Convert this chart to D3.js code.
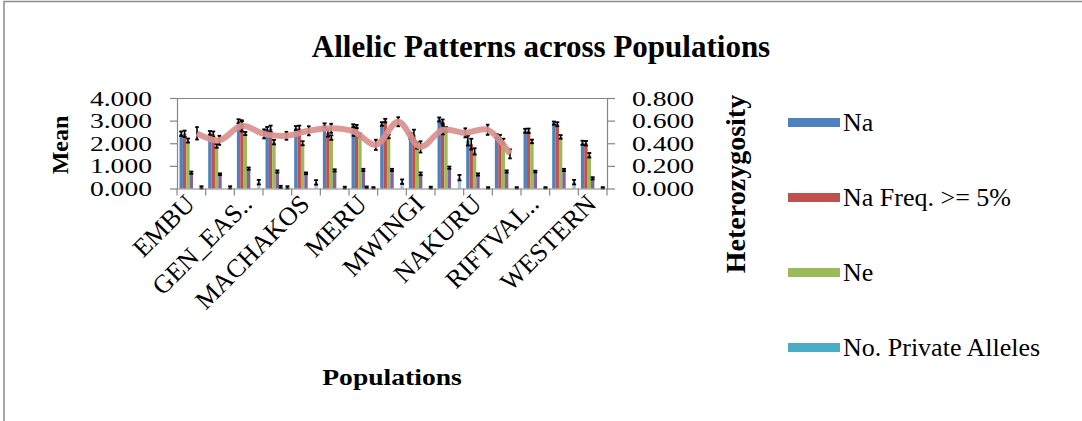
<!DOCTYPE html>
<html>
<head>
<meta charset="utf-8">
<script src="https://cdn.jsdelivr.net/npm/d3@7/dist/d3.min.js"></script>
<style>
  html, body { margin: 0; padding: 0; background: #ffffff; }
  svg { display: block; }
  svg text { font-family: "Liberation Serif", "Times New Roman", serif; fill: #000; }
</style>
</head>
<body>
<svg id="chart" width="1082" height="421"></svg>
<script>
// Populations on the category axis (every other name is shown as a tick label)
const populations = ["EMBU", "GEN_CEN..", "GEN_EAS..", "KIRINYAGA", "MACHAKOS", "MAKUENI", "MERU",
  "MURANGA", "MWINGI", "NAIROBI", "NAKURU", "NYERI", "RIFTVAL..", "THIKA", "WESTERN"];

// Mean values per population (primary axis)
const na      = [2.42, 2.45, 2.97, 2.62, 2.67, 2.80, 2.76, 2.85, 2.32, 3.05, 2.12, 2.32, 2.55, 2.89, 2.02];
const naFreq5 = [2.42, 2.40, 2.88, 2.64, 2.66, 2.45, 2.74, 3.00, 2.38, 2.96, 1.96, 2.27, 2.55, 2.84, 2.00];
const ne      = [2.12, 1.88, 2.43, 2.05, 2.00, 2.25, 2.35, 2.30, 1.90, 2.62, 1.64, 2.08, 2.08, 2.28, 1.47];
const shannon = [0.70, 0.63, 0.88, 0.75, 0.67, 0.80, 0.82, 0.82, 0.65, 0.92, 0.62, 0.75, 0.75, 0.82, 0.45];
const privateAlleles = [0.00, 0.00, 0.00, 0.07, 0.00, 0.00, 0.05, 0.00, 0.00, 0.00, 0.00, 0.00, 0.00, 0.00, 0.00];
const lcomm25 = [0, 0, 0, 0, 0, 0, 0, 0, 0, 0, 0, 0, 0, 0, 0];
const lcomm50 = [0.05, 0.05, 0.28, 0.05, 0.27, 0.04, 0.03, 0.30, 0.04, 0.48, 0.03, 0.03, 0.03, 0.28, 0.03];

// Standard errors drawn as error bars
const seNa      = [0.10, 0.09, 0.09, 0.10, 0.09, 0.08, 0.08, 0.08, 0.14, 0.09, 0.22, 0.09, 0.09, 0.07, 0.09];
const seNaFreq5 = [0.14, 0.12, 0.10, 0.14, 0.12, 0.16, 0.07, 0.08, 0.22, 0.09, 0.24, 0.10, 0.10, 0.09, 0.10];
const seNe      = [0.09, 0.08, 0.07, 0.10, 0.09, 0.10, 0.08, 0.08, 0.14, 0.10, 0.14, 0.12, 0.08, 0.08, 0.10];
const seShannon = [0.05, 0.04, 0.05, 0.05, 0.04, 0.05, 0.05, 0.05, 0.06, 0.05, 0.05, 0.05, 0.04, 0.05, 0.05];
const sePrivate = [0.00, 0.00, 0.00, 0.05, 0.00, 0.00, 0.04, 0.00, 0.00, 0.00, 0.00, 0.00, 0.00, 0.00, 0.00];
const seLcomm50 = [0.05, 0.05, 0.10, 0.05, 0.10, 0.04, 0.03, 0.10, 0.04, 0.12, 0.03, 0.03, 0.03, 0.10, 0.03];

// Heterozygosity per population (secondary axis)
const he   = [0.488, 0.426, 0.554, 0.483, 0.466, 0.510, 0.532, 0.505, 0.386, 0.590, 0.368, 0.519, 0.492, 0.519, 0.306];
const seHe = [0.055, 0.040, 0.050, 0.040, 0.035, 0.040, 0.040, 0.040, 0.045, 0.040, 0.050, 0.040, 0.040, 0.045, 0.040];

// Axis ticks
const meanTicks = [0, 1, 2, 3, 4];
const hetTicks = [0, 0.2, 0.4, 0.6, 0.8];

const barSeries = [
  { name: "Na", values: na, se: seNa, color: "#4f81bd" },
  { name: "Na Freq. >= 5%", values: naFreq5, se: seNaFreq5, color: "#c0504d" },
  { name: "Ne", values: ne, se: seNe, color: "#9bbb59" },
  { name: "I", values: shannon, se: seShannon, color: "#8064a2" },
  { name: "No. Private Alleles", values: privateAlleles, se: sePrivate, color: "#4bacc6" },
  { name: "No. LComm Alleles (<=25%)", values: lcomm25, se: null, color: "#f79646" },
  { name: "No. LComm Alleles (<=50%)", values: lcomm50, se: seLcomm50, color: "#a9c1e3" }
];
const legendSeries = ["Na", "Na Freq. >= 5%", "Ne", "No. Private Alleles"];

const svg = d3.select("#chart");
const axisColor = "#868686";
const serif = "'Liberation Serif', 'Times New Roman', serif";

// Chart area frame
svg.append("rect")
  .attr("x", 4).attr("y", 1.5).attr("width", 1200).attr("height", 440)
  .attr("fill", "none").attr("stroke", "#8c8c8c").attr("stroke-width", 1.5);

// Plot area
const plot = { left: 177, top: 98, right: 607, bottom: 188.5 };
const pw = plot.right - plot.left, ph = plot.bottom - plot.top;
const g = svg.append("g").attr("transform", `translate(${plot.left},${plot.top})`);

const x = d3.scaleBand().domain(populations).range([0, pw]).padding(0);
const bw = x.bandwidth();
const gapHalf = 0.75; // half of a 150% gap width, in bar widths
const slots = barSeries.length + 2 * gapHalf;
const xInner = d3.scaleBand().domain(barSeries.map(s => s.name))
  .range([bw * gapHalf / slots, bw * (gapHalf + barSeries.length) / slots]).padding(0);
const yMean = d3.scaleLinear().domain([0, 4]).range([ph, 0]);
const yHet = d3.scaleLinear().domain([0, 0.8]).range([ph, 0]);
// Heterozygosity points sit on their own horizontal placement
const xHet = d3.scalePoint().domain(populations).range([20, 333]);

// Plot top border
g.append("line").attr("x1", 0).attr("x2", pw).attr("y1", 0.5).attr("y2", 0.5)
  .attr("stroke", axisColor).attr("stroke-width", 1);

// Bars
const groups = g.selectAll("g.pop").data(populations).join("g")
  .attr("class", "pop").attr("transform", d => `translate(${x(d)},0)`);

barSeries.forEach(s => {
  groups.append("rect")
    .attr("x", (d, i) => xInner(s.name))
    .attr("width", xInner.bandwidth())
    .attr("y", (d, i) => yMean(s.values[i]))
    .attr("height", (d, i) => ph - yMean(s.values[i]))
    .attr("fill", s.color);
});

// Error bars on the bars
barSeries.forEach(s => {
  if (!s.se) return;
  groups.each(function (d, i) {
    const v = s.values[i], e = s.se[i];
    if (!e) return;
    const cx = xInner(s.name) + xInner.bandwidth() / 2;
    const hw = xInner.bandwidth() / 2 + 0.3;
    const sel = d3.select(this);
    const y1 = yMean(v + e), y2 = Math.min(ph, yMean(Math.max(0, v - e)));
    sel.append("line").attr("x1", cx).attr("x2", cx).attr("y1", y1).attr("y2", y2)
      .attr("stroke", "#000").attr("stroke-width", 1.6);
    [y1, y2].forEach(yy => sel.append("line")
      .attr("x1", cx - hw).attr("x2", cx + hw).attr("y1", yy).attr("y2", yy)
      .attr("stroke", "#000").attr("stroke-width", 1.8));
  });
});

// Heterozygosity error bars, then line
populations.forEach((p, i) => {
  const cx = xHet(p);
  const y1 = yHet(he[i] + seHe[i]), y2 = yHet(he[i] - seHe[i]);
  g.append("line").attr("x1", cx).attr("x2", cx).attr("y1", y1).attr("y2", y2)
    .attr("stroke", "#000").attr("stroke-width", 1.6);
  [y1, y2].forEach(yy => g.append("line")
    .attr("x1", cx - 1.8).attr("x2", cx + 1.8).attr("y1", yy).attr("y2", yy)
    .attr("stroke", "#000").attr("stroke-width", 1.8));
});

const heLine = d3.line()
  .x((d, i) => xHet(populations[i]))
  .y(d => yHet(d))
  .curve(d3.curveCatmullRom.alpha(0.5));
g.append("path").datum(he).attr("d", heLine)
  .attr("fill", "none").attr("stroke", "#d9908d").attr("stroke-width", 6)
  .attr("stroke-opacity", 0.92).attr("stroke-linejoin", "round").attr("stroke-linecap", "butt");

// Axes
function styleAxis(sel) {
  sel.attr("font-family", serif);
  sel.select(".domain").attr("stroke", axisColor).attr("stroke-width", 1.2);
  sel.selectAll(".tick line").attr("stroke", axisColor).attr("stroke-width", 1.2);
}
const leftAxis = g.append("g")
  .call(d3.axisLeft(yMean).tickValues(meanTicks).tickFormat(d3.format(".3f")).tickSize(7).tickSizeOuter(0));
styleAxis(leftAxis);
leftAxis.selectAll(".tick text")
  .attr("x", null).attr("dy", null).attr("text-anchor", "end")
  .attr("font-size", 20)
  .attr("transform", "translate(-25,7) scale(1.38,1)");

const rightAxis = g.append("g").attr("transform", `translate(${pw},0)`)
  .call(d3.axisRight(yHet).tickValues(hetTicks).tickFormat(d3.format(".3f")).tickSize(8).tickSizeOuter(0));
styleAxis(rightAxis);
rightAxis.selectAll(".tick text")
  .attr("x", null).attr("dy", null).attr("text-anchor", "start")
  .attr("font-size", 20)
  .attr("transform", "translate(25,7) scale(1.38,1)");

const bottomAxis = g.append("g").attr("transform", `translate(0,${ph})`)
  .call(d3.axisBottom(x).tickSize(0).tickSizeOuter(0)
    .tickFormat((d, i) => (i % 2 === 0 ? d : "")));
bottomAxis.attr("font-family", serif);
bottomAxis.select(".domain").attr("stroke", axisColor).attr("stroke-width", 1.2);
// Tick marks at the category boundaries
bottomAxis.selectAll("line.boundary").data(d3.range(populations.length + 1)).join("line")
  .attr("class", "boundary")
  .attr("x1", i => i * bw).attr("x2", i => i * bw).attr("y1", 0).attr("y2", 7)
  .attr("stroke", axisColor).attr("stroke-width", 1.2);
bottomAxis.selectAll(".tick text")
  .attr("y", null).attr("dy", null).attr("text-anchor", "end")
  .attr("font-size", 26)
  .attr("transform", "translate(5,17) rotate(-45)");

// Titles
svg.append("text").attr("x", 541).attr("y", 57).attr("text-anchor", "middle")
  .attr("font-size", 31).attr("font-weight", "bold")
  .text("Allelic Patterns across Populations");

svg.append("text").attr("transform", "translate(392,385) scale(1.2,1)").attr("text-anchor", "middle")
  .attr("font-size", 23).attr("font-weight", "bold").text("Populations");

svg.append("text").attr("transform", "translate(68,145) rotate(-90)").attr("text-anchor", "middle")
  .attr("font-size", 24).attr("font-weight", "bold").text("Mean");

svg.append("text").attr("transform", "translate(745,184) rotate(-90)").attr("text-anchor", "middle")
  .attr("font-size", 28).attr("font-weight", "bold").text("Heterozygosity");

// Legend
const legend = svg.append("g").attr("transform", "translate(788,0)");
legendSeries.forEach((name, k) => {
  const s = barSeries.find(b => b.name === name);
  const cy = 122.5 + k * 75;
  legend.append("rect").attr("x", 0).attr("y", cy - 4.5).attr("width", 52).attr("height", 9).attr("fill", s.color);
  legend.append("text").attr("x", 55).attr("y", cy + 8)
    .attr("font-family", serif).attr("font-size", 26).text(name);
});
</script>
</body>
</html>
